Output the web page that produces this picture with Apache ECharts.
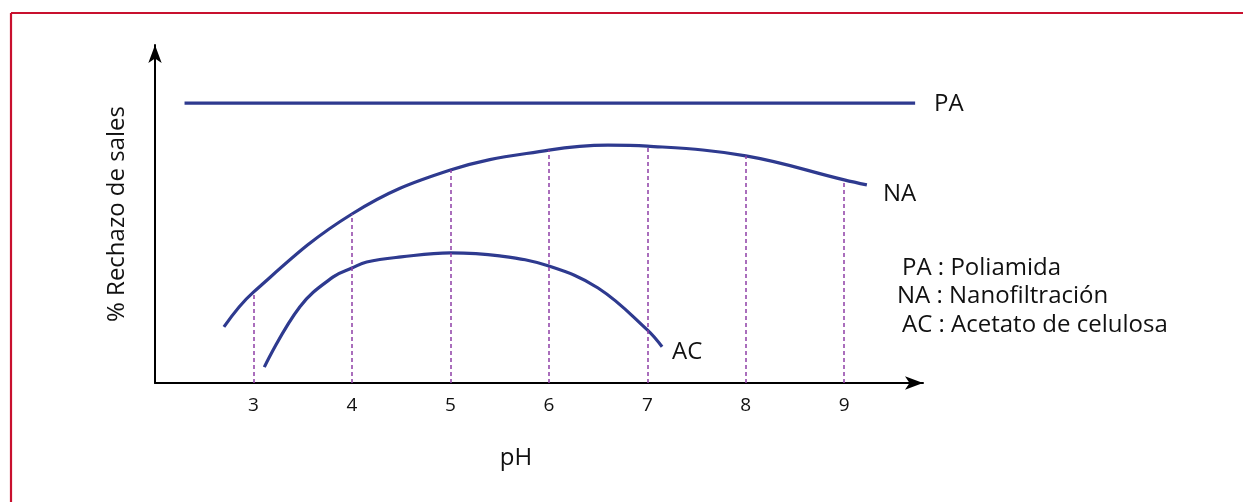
<!DOCTYPE html>
<html><head><meta charset="utf-8">
<script src="https://cdn.jsdelivr.net/npm/echarts@6/dist/echarts.min.js"></script>
<style>html,body{margin:0;padding:0;background:#fff}#c{width:1243px;height:502px}</style>
</head><body><div id="c"></div>
<script>
// pH positions and rejection (relative %)
var paX = [2.30, 9.72];
var paY = [82.8, 82.8];
var naX = [2.70, 3, 4, 5, 6, 6.6, 7, 8, 9, 9.23];
var naY = [16.6, 26.9, 50.0, 63.0, 68.9, 70.4, 70.1, 67.2, 60.1, 58.6];
var acX = [3.11, 3.47, 3.81, 4.0, 4.15, 4.5, 5.0, 5.5, 6.0, 6.5, 7.0, 7.15];
var acY = [4.7, 22.5, 31.4, 34.0, 35.8, 37.3, 38.5, 37.6, 34.6, 28.1, 15.7, 10.7];
var xTickLabels = ['3','4','5','6','7','8','9'];
var legendLines = ['PA : Poliamida', 'NA : Nanofiltración', 'AC : Acetato de celulosa'];
var seriesNames = ['PA', 'NA', 'AC'];

var FONT = 'Open Sans';
var BIG = 24;
var BLUE = '#2E3A8F';
var PURPLE = '#8E3FA6';

function pairs(xs, ys){ return xs.map(function(x,i){ return [x, ys[i]]; }); }

var dropLines = [];
naX.forEach(function(x,i){
  if (xTickLabels.indexOf(String(x)) >= 0) {
    dropLines.push([{coord:[x,0]},{coord:[x,naY[i]]}]);
  }
});

var chart = echarts.init(document.getElementById('c'));
chart.setOption({
  animation: false,
  grid: {left: 155, right: 320, top: 45, bottom: 119},
  xAxis: {
    type: 'value', min: 2, max: 9.8, interval: 1,
    name: 'pH', nameLocation: 'middle', nameGap: 63,
    nameTextStyle: {fontFamily: FONT, fontSize: BIG, color: '#111', padding: [0, 46, 0, 0]},
    axisLine: {show: true, symbol: ['none','arrow'], symbolSize: [10, 18], lineStyle: {color: '#000', width: 2}},
    axisTick: {show: false},
    splitLine: {show: false},
    axisLabel: {
      fontFamily: FONT, fontSize: 19, color: '#111', margin: 13,
      showMinLabel: false, showMaxLabel: false,
      formatter: function(v){ var s = String(v); return xTickLabels.indexOf(s) >= 0 ? s : ''; }
    }
  },
  yAxis: {
    type: 'value', min: 0, max: 100,
    name: '% Rechazo de sales', nameLocation: 'middle', nameGap: 26, nameRotate: 90,
    nameTextStyle: {fontFamily: FONT, fontSize: BIG, color: '#111'},
    axisLine: {show: true, symbol: ['none','arrow'], symbolSize: [10, 18], lineStyle: {color: '#000', width: 2}},
    axisTick: {show: false}, axisLabel: {show: false}, splitLine: {show: false}
  },
  series: [
    {
      name: seriesNames[0], type: 'line', data: pairs(paX, paY), showSymbol: false,
      lineStyle: {color: BLUE, width: 3.2},
      endLabel: {show: true, formatter: '{a}', distance: 19, offset: [0, 1], fontFamily: FONT, fontSize: BIG, color: '#111'}
    },
    {
      name: seriesNames[1], type: 'line', data: pairs(naX, naY), showSymbol: false, smooth: 0.4,
      lineStyle: {color: BLUE, width: 3.2},
      endLabel: {show: true, formatter: '{a}', distance: 16, offset: [0, 9], fontFamily: FONT, fontSize: BIG, color: '#111'},
      markLine: {
        silent: true, symbol: ['none','none'], label: {show: false},
        lineStyle: {color: PURPLE, width: 1.5, type: [4, 3]},
        data: dropLines
      }
    },
    {
      name: seriesNames[2], type: 'line', data: pairs(acX, acY), showSymbol: false, smooth: 0.4,
      lineStyle: {color: BLUE, width: 3.2},
      endLabel: {show: true, formatter: '{a}', distance: 10, offset: [0, 5], fontFamily: FONT, fontSize: BIG, color: '#111'}
    }
  ],
  graphic: [
    {type: 'line', shape: {x1: 11, y1: 13, x2: 1243, y2: 13}, style: {stroke: '#C8102E', lineWidth: 2.2}},
    {type: 'line', shape: {x1: 11, y1: 13, x2: 11, y2: 502}, style: {stroke: '#C8102E', lineWidth: 2.2}},
    {type: 'text', x: 902, y: 268, style: {text: legendLines[0], font: BIG + 'px "Open Sans"', fill: '#111', verticalAlign: 'middle'}},
    {type: 'text', x: 897, y: 296, style: {text: legendLines[1], font: BIG + 'px "Open Sans"', fill: '#111', verticalAlign: 'middle'}},
    {type: 'text', x: 902, y: 325, style: {text: legendLines[2], font: BIG + 'px "Open Sans"', fill: '#111', verticalAlign: 'middle'}}
  ]
});
</script></body></html>
